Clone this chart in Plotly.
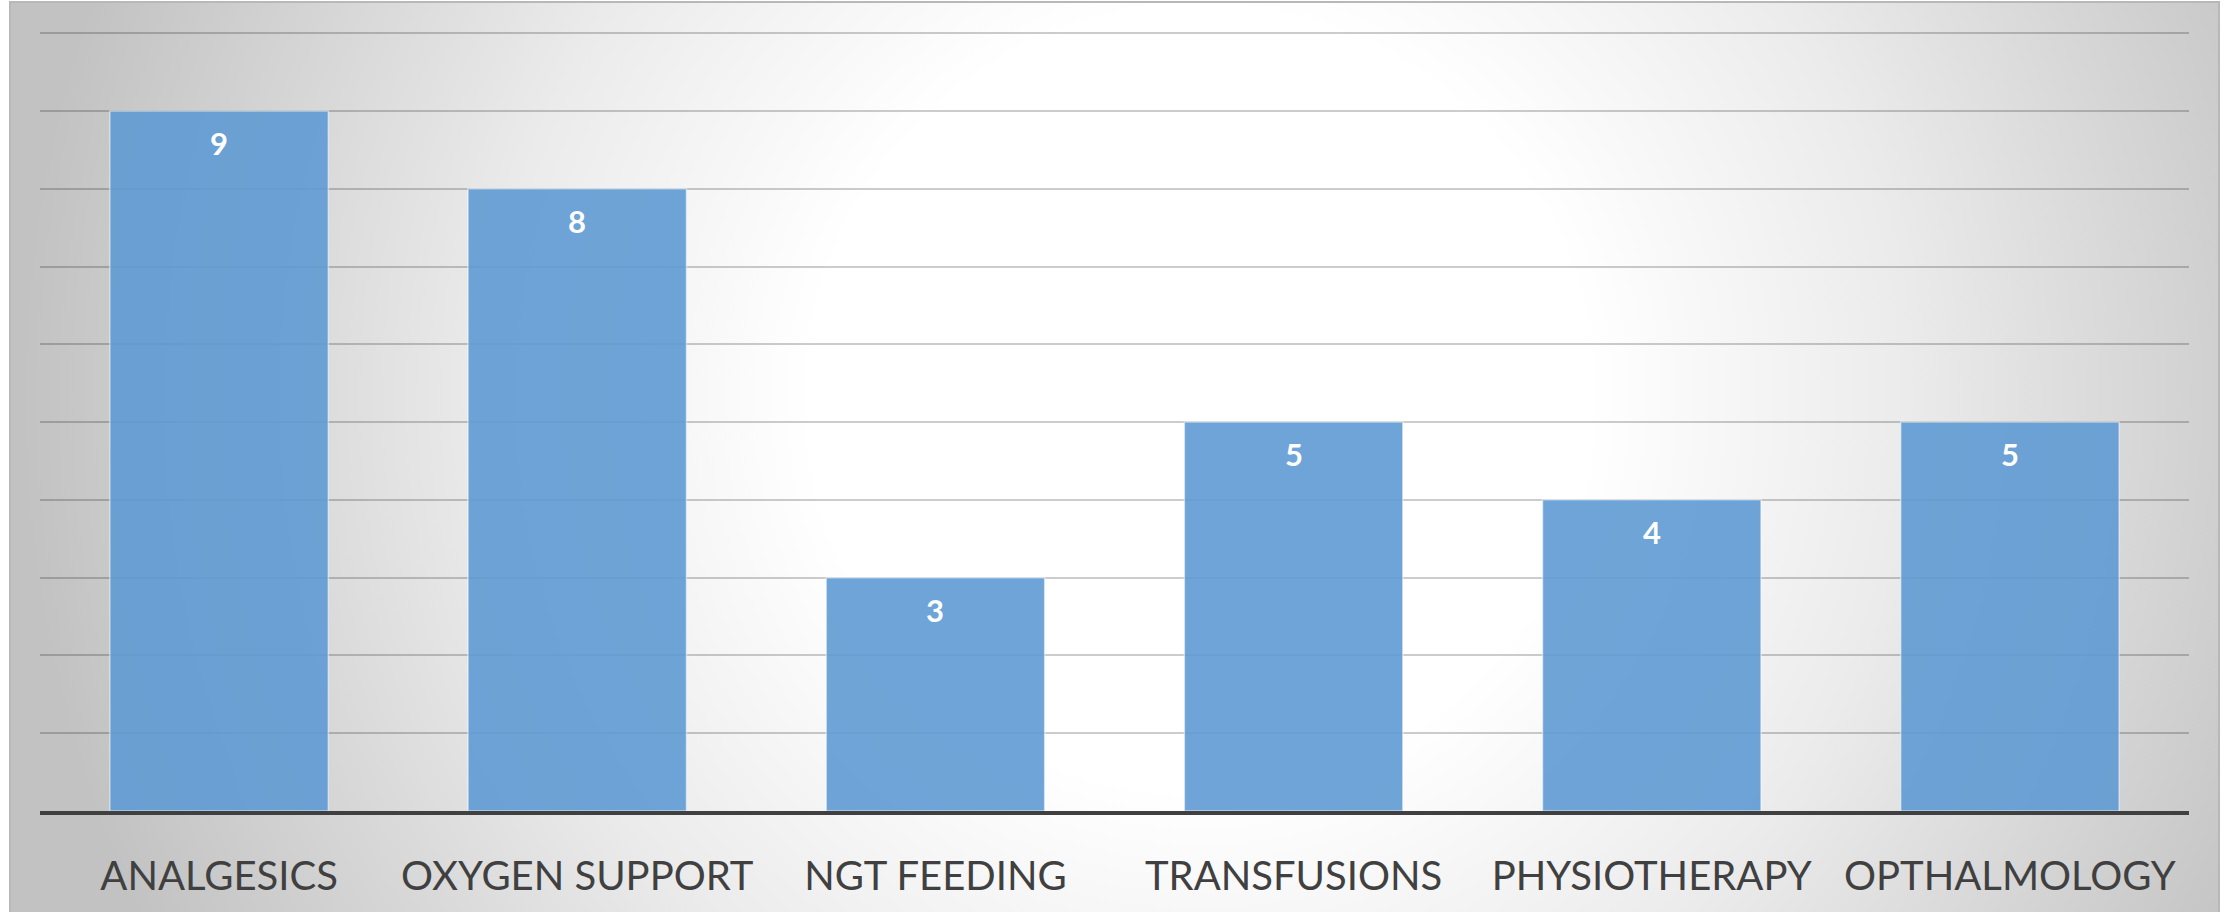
import base64
import plotly.graph_objects as go

# Procedure counts per category
categories = ["ANALGESICS", "OXYGEN SUPPORT", "NGT FEEDING", "TRANSFUSIONS",
              "PHYSIOTHERAPY", "OPTHALMOLOGY"]
counts = [9, 8, 3, 5, 4, 5]
y_ticks = [0, 1, 2, 3, 4, 5, 6, 7, 8, 9, 10]

W, H = 2234, 912
M_L, M_R, M_T, M_B = 40, 45, 33, 101
PW, PH = W - M_L - M_R, H - M_T - M_B

# Chart-area panel (px) with a soft radial gray gradient
BX0, BY0, BX1, BY1 = 10, 3, 2219, 912
bw, bh = BX1 - BX0, BY1 - BY0
svg = f'''<svg xmlns="http://www.w3.org/2000/svg" width="{bw}" height="{bh}" viewBox="0 0 {bw} {bh}" preserveAspectRatio="none">
<defs><radialGradient id="g" gradientUnits="userSpaceOnUse" cx="{1200-BX0}" cy="{400-BY0}" r="1180">
<stop offset="0" stop-color="#ffffff"/>
<stop offset="0.33" stop-color="#ffffff"/>
<stop offset="0.6" stop-color="#ebebeb"/>
<stop offset="1" stop-color="#c2c2c2"/>
</radialGradient></defs>
<rect x="0" y="0" width="{bw}" height="{bh}" fill="url(#g)"/>
</svg>'''
src = "data:image/svg+xml;base64," + base64.b64encode(svg.encode()).decode()


def px_to_paper_x(px):
    return (px - M_L) / PW


def px_to_paper_y(py):
    return (H - M_B - py) / PH


fig = go.Figure()
fig.add_trace(go.Bar(
    x=categories, y=counts,
    marker=dict(color="rgb(96,155,212)", opacity=0.9,
                line=dict(color="rgba(255,255,255,0.55)", width=1.5)),
    hoverinfo="skip",
))

# value labels inside the top of each bar
for c, v in zip(categories, counts):
    fig.add_annotation(x=c, y=v, text=f"<b>{v}</b>", showarrow=False,
                       yshift=-32, yanchor="middle",
                       font=dict(family="Lato", size=31, color="white"))

fig.add_layout_image(dict(
    source=src, xref="paper", yref="paper",
    x=px_to_paper_x(BX0), y=px_to_paper_y(BY0),
    sizex=bw / PW, sizey=bh / PH,
    xanchor="left", yanchor="top", sizing="stretch", layer="below",
))
fig.add_shape(type="rect", xref="paper", yref="paper",
              x0=px_to_paper_x(BX0), x1=px_to_paper_x(BX1),
              y0=px_to_paper_y(BY1 + 2), y1=px_to_paper_y(BY0),
              line=dict(color="#b8b8b8", width=2), layer="below")

fig.update_layout(
    width=W, height=H,
    margin=dict(l=M_L, r=M_R, t=M_T - 1, b=M_B),
    paper_bgcolor="white", plot_bgcolor="rgba(0,0,0,0)",
    bargap=0.39, showlegend=False,
    xaxis=dict(type="category", showline=True, linecolor="#404040", linewidth=4,
               ticks="", showgrid=False, ticklabelstandoff=27,
               tickfont=dict(family="Lato", size=40, color="#404040")),
    yaxis=dict(range=[0, 10.015], tickvals=y_ticks, showticklabels=False,
               showgrid=True, gridcolor="rgba(0,0,0,0.2)", gridwidth=1.5,
               zeroline=False, showline=False, ticks=""),
)

fig.write_html("out.html")
